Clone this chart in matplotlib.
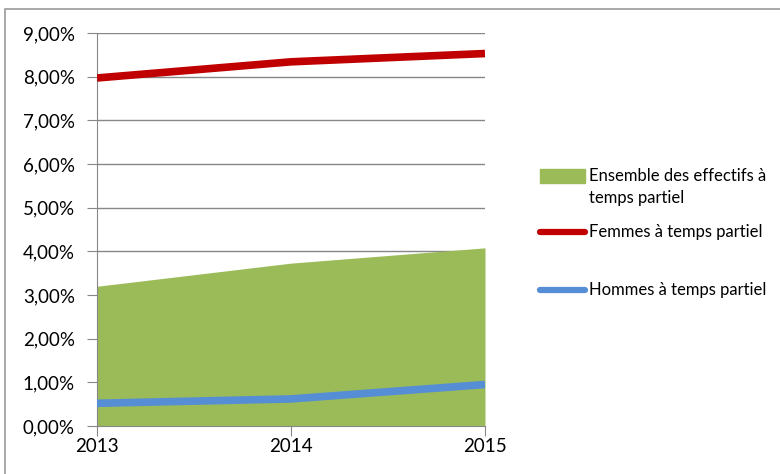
import matplotlib.pyplot as plt
import matplotlib.patches as mpatches
from matplotlib.lines import Line2D
from matplotlib.ticker import FuncFormatter

# ── Data ───────────────────────────────────────────
years = [2013, 2014, 2015]
ensemble = [3.20, 3.73, 4.08]   # % effectifs à temps partiel
femmes = [7.97, 8.34, 8.53]
hommes = [0.52, 0.62, 0.95]

GREEN = '#9BBB59'
RED = '#C00000'
BLUE = '#558ED5'
GRID = '#878787'

plt.rcParams['font.family'] = ['Lato', 'DejaVu Sans']

fig = plt.figure(figsize=(7.8, 4.74), dpi=100)
W, H = 780, 474
ax = fig.add_axes([97 / W, 1 - 426 / H, (485 - 97) / W, (426 - 33) / H])

ax.fill_between(years, 0, ensemble, color=GREEN, linewidth=0, zorder=2)
ax.plot(years, femmes, color=RED, lw=5.5, solid_capstyle='butt', zorder=3)
ax.plot(years, hommes, color=BLUE, lw=5.5, solid_capstyle='butt', zorder=3)

ax.set_xlim(2013, 2015)
ax.set_ylim(0, 9)
ax.set_yticks(range(0, 10))
ax.set_xticks(years)
ax.yaxis.set_major_formatter(FuncFormatter(lambda v, p: f'{v:.2f}%'.replace('.', ',')))
ax.grid(axis='y', color=GRID, lw=1, zorder=1)
ax.tick_params(axis='y', length=7, color=GRID, labelsize=13.5, pad=9)
ax.tick_params(axis='x', length=7, color=GRID, labelsize=13.5, pad=2)
for s in ['top', 'right']:
    ax.spines[s].set_visible(False)
for s in ['left', 'bottom']:
    ax.spines[s].set_color(GRID)
ax.set_axisbelow(True)

# outer chart frame
fig.add_artist(mpatches.Rectangle((5 / W, -0.1), 1.2, 1 - 9 / H + 0.1,
                                  transform=fig.transFigure, fill=False,
                                  edgecolor='#9a9a9a', lw=1.2))

# legend drawn by hand
fs = 12
fig.add_artist(mpatches.Rectangle((540 / W, 1 - 183 / H), 45 / W, 14 / H,
                                  transform=fig.transFigure, color=GREEN))
fig.text(589 / W, 1 - 176 / H, 'Ensemble des effectifs à', fontsize=fs, va='center')
fig.text(589 / W, 1 - 198 / H, 'temps partiel', fontsize=fs, va='center')
for y, c, lab in [(232, RED, 'Femmes à temps partiel'), (290, BLUE, 'Hommes à temps partiel')]:
    fig.add_artist(Line2D([540 / W, 585 / W], [1 - y / H, 1 - y / H], color=c, lw=4.5,
                          solid_capstyle='round', transform=fig.transFigure))
    fig.text(589 / W, 1 - y / H, lab, fontsize=fs, va='center')

fig.savefig('out.png', dpi=100)
